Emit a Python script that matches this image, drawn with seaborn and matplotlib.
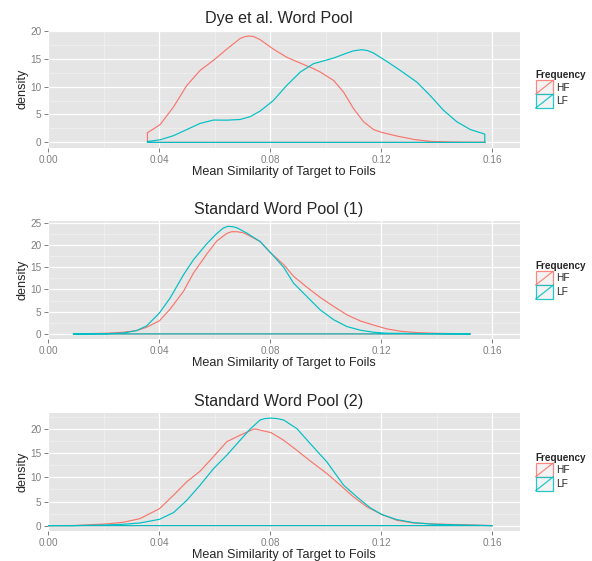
import numpy as np
import pandas as pd
import matplotlib
matplotlib.use("Agg")
import matplotlib.pyplot as plt
import seaborn as sns
from matplotlib.legend_handler import HandlerBase
from matplotlib.lines import Line2D
from matplotlib.patches import Rectangle
from matplotlib.ticker import MultipleLocator, FormatStrFormatter

HF_COLOR = "#F8766D"
LF_COLOR = "#00BFC4"

# ── DATA (density curves) ───────────────────────────────────────────────────
dye_hf_x = [0.0357, 0.0403, 0.0451, 0.0499, 0.0547, 0.0595, 0.0643, 0.0691, 0.0706,
            0.0721, 0.0740, 0.0763, 0.0811, 0.0859, 0.0908, 0.0956, 0.0980, 0.1028,
            0.1064, 0.1100, 0.1136, 0.1172, 0.1202, 0.1257, 0.1317, 0.1377, 0.1437,
            0.1500, 0.1575]
dye_hf_y = [1.72, 3.2, 6.35, 10.2, 12.9, 14.7, 16.7, 18.6, 18.9,
            19.05, 18.95, 18.4, 16.7, 15.25, 14.2, 13.2, 12.6, 11.1,
            9.0, 6.05, 3.7, 2.3, 1.78, 1.13, 0.53, 0.18, 0.06,
            0.01, 0.0]
dye_lf_x = [0.0357, 0.0403, 0.0451, 0.0499, 0.0547, 0.0595, 0.0643, 0.0691, 0.0727,
            0.0763, 0.0811, 0.0859, 0.0908, 0.0956, 0.1028, 0.1076, 0.1100, 0.1130,
            0.1150, 0.1172, 0.1220, 0.1268, 0.1328, 0.1376, 0.1424, 0.1472, 0.1521,
            0.1573]
dye_lf_y = [0.15, 0.47, 1.2, 2.3, 3.4, 4.0, 3.98, 4.1, 4.6,
            5.6, 7.5, 10.2, 12.6, 14.1, 15.1, 16.0, 16.4, 16.6,
            16.45, 16.0, 14.5, 12.9, 10.8, 8.4, 5.76, 3.7, 2.3,
            1.48]

std1_hf_x = [0.0090, 0.0210, 0.0270, 0.0318, 0.0354, 0.0400, 0.0439, 0.0487, 0.0523,
             0.0571, 0.0607, 0.0643, 0.0660, 0.0679, 0.0700, 0.0715, 0.0763, 0.0802,
             0.0848, 0.0884, 0.0932, 0.0980, 0.1028, 0.1076, 0.1125, 0.1172, 0.1220,
             0.1269, 0.1328, 0.1389, 0.1521]
std1_hf_y = [0.0, 0.15, 0.38, 0.75, 1.5, 2.94, 5.6, 9.6, 13.7,
             18.0, 20.9, 22.6, 23.0, 23.0, 22.8, 22.4, 20.8, 18.2,
             15.6, 12.95, 10.5, 8.2, 6.2, 4.3, 2.9, 2.0, 1.13,
             0.6, 0.3, 0.15, 0.0]
std1_lf_x = [0.0090, 0.0210, 0.0270, 0.0318, 0.0354, 0.0400, 0.0439, 0.0487, 0.0523,
             0.0571, 0.0607, 0.0630, 0.0646, 0.0662, 0.0679, 0.0715, 0.0763, 0.0802,
             0.0848, 0.0884, 0.0932, 0.0980, 0.1028, 0.1076, 0.1125, 0.1172, 0.1220,
             0.1521]
std1_lf_y = [0.0, 0.05, 0.2, 0.75, 1.8, 4.7, 8.1, 13.3, 16.7,
             20.3, 22.6, 23.8, 24.2, 24.15, 23.9, 22.7, 20.8, 18.2,
             15.0, 11.4, 8.4, 5.4, 3.2, 1.66, 0.83, 0.38, 0.15,
             0.0]

std2_hf_x = [0.0, 0.0090, 0.0210, 0.0270, 0.0330, 0.0400, 0.0451, 0.0499, 0.0547,
             0.0595, 0.0643, 0.0691, 0.0739, 0.0750, 0.0763, 0.0802, 0.0848, 0.0896,
             0.0944, 0.1004, 0.1052, 0.1100, 0.1148, 0.1202, 0.1256, 0.1316, 0.1389,
             0.1485, 0.1600]
std2_hf_y = [0.0, 0.02, 0.35, 0.7, 1.45, 3.5, 6.3, 9.1, 11.3,
             14.3, 17.4, 18.75, 20.0, 20.0, 19.8, 19.3, 17.7, 15.6,
             13.4, 10.8, 8.4, 5.95, 3.9, 2.3, 1.1, 0.55, 0.35,
             0.2, 0.0]
std2_lf_x = [0.0, 0.0090, 0.0210, 0.0270, 0.0330, 0.0400, 0.0451, 0.0499, 0.0547,
             0.0595, 0.0643, 0.0691, 0.0727, 0.0763, 0.0780, 0.0802, 0.0825, 0.0848,
             0.0896, 0.0944, 0.1004, 0.1064, 0.1112, 0.1160, 0.1202, 0.1256, 0.1316,
             0.1389, 0.1485, 0.1600]
std2_lf_y = [0.0, 0.0, 0.14, 0.28, 0.55, 1.3, 2.7, 5.26, 8.4,
             11.8, 14.6, 17.7, 20.0, 21.9, 22.2, 22.3, 22.2, 21.9,
             20.1, 17.0, 13.2, 8.4, 5.95, 3.7, 2.3, 1.25, 0.62,
             0.28, 0.14, 0.0]

panel_titles = ["Dye et al. Word Pool", "Standard Word Pool (1)", "Standard Word Pool (2)"]
panel_curves = [
    {"HF": (dye_hf_x, dye_hf_y), "LF": (dye_lf_x, dye_lf_y)},
    {"HF": (std1_hf_x, std1_hf_y), "LF": (std1_lf_x, std1_lf_y)},
    {"HF": (std2_hf_x, std2_hf_y), "LF": (std2_lf_x, std2_lf_y)},
]
x_ticks = [0.00, 0.04, 0.08, 0.12, 0.16]


def outline_frame(curves):
    # geom_density style outline: curve, drop to baseline, run back, close
    rows = []
    for grp, (xs, ys) in curves.items():
        ox = list(xs) + [xs[-1], xs[0], xs[0]]
        oy = list(ys) + [0.0, 0.0, ys[0]]
        rows.append(pd.DataFrame({"x": ox, "density": oy, "Frequency": grp}))
    return pd.concat(rows, ignore_index=True)


class KeyHandler(HandlerBase):
    def create_artists(self, legend, orig_handle, xdescent, ydescent,
                       width, height, fontsize, trans):
        c = orig_handle.get_color()
        box = Rectangle((-xdescent, -ydescent), width, height, facecolor="#F2F2F2",
                        edgecolor=c, lw=0.9, alpha=0.85, transform=trans)
        diag = Line2D([-xdescent, -xdescent + width], [-ydescent, -ydescent + height],
                      color=c, lw=0.9, alpha=0.85, transform=trans)
        return [box, diag]


# ── STYLE ────────────────────────────────────────────────────────────────────
sns.set_style("darkgrid", rc={"axes.facecolor": "#E5E5E5", "grid.color": "white"})
plt.rcParams["font.family"] = ["Liberation Sans", "DejaVu Sans"]

fig = plt.figure(figsize=(5.92, 5.61), dpi=100)
W, H = 592, 561
panel_px = [(30.7, 147.7), (221.0, 339.3), (412.7, 531.0)]
title_pads = [5.6, 4.8, 4.8]
left_px, right_px = 48.4, 520.0

for i, (top, bot) in enumerate(panel_px):
    ax = fig.add_axes([left_px / W, 1 - bot / H, (right_px - left_px) / W, (bot - top) / H])
    df = outline_frame(panel_curves[i])
    sns.lineplot(data=df, x="x", y="density", hue="Frequency", sort=False,
                 estimator=None, palette={"HF": HF_COLOR, "LF": LF_COLOR},
                 hue_order=["HF", "LF"], linewidth=0.85, legend=False, ax=ax)

    ax.set_xlim(0, 0.17)
    ax.margins(y=0.05)
    ax.set_xticks(x_ticks)
    ax.xaxis.set_major_formatter(FormatStrFormatter("%.2f"))
    ax.xaxis.set_minor_locator(MultipleLocator(0.02))
    ax.yaxis.set_major_locator(MultipleLocator(5))
    ax.yaxis.set_minor_locator(MultipleLocator(2.5))
    ax.yaxis.set_major_formatter(FormatStrFormatter("%d"))

    ax.grid(which="major", color="white", lw=0.9)
    ax.grid(which="minor", color="#F2F2F2", lw=0.45)
    ax.set_axisbelow(True)
    for s in ax.spines.values():
        s.set_visible(False)
    ax.tick_params(which="major", length=2.9, width=0.7, color="#7F7F7F",
                   labelcolor="#7F7F7F", labelsize=7.2, pad=2, bottom=True, left=True)
    ax.tick_params(which="minor", length=0)

    ax.set_xlabel("Mean Similarity of Target to Foils", fontsize=9.1, labelpad=0.8)
    ax.set_ylabel("density", fontsize=9.1, labelpad=1)
    ax.set_title(panel_titles[i], fontsize=11.6, x=0.489, pad=title_pads[i])

    handles = [Line2D([], [], color=HF_COLOR), Line2D([], [], color=LF_COLOR)]
    ax.legend(handles, ["HF", "LF"], handler_map={Line2D: KeyHandler()},
              title="Frequency", loc="center left", bbox_to_anchor=(1.033, 0.5),
              frameon=False, borderpad=0, borderaxespad=0, handlelength=1.74,
              handleheight=1.74, labelspacing=0, handletextpad=0.3, fontsize=7.3,
              title_fontproperties={"weight": "bold", "size": 7.2}, alignment="left")

fig.savefig("out.png", dpi=100)
